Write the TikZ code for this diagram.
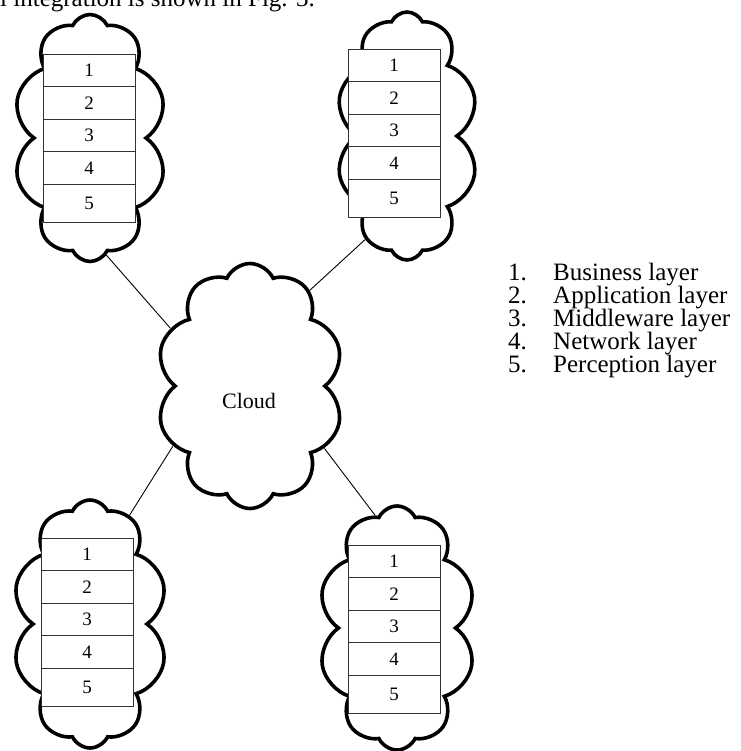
\documentclass[tikz,border=0pt]{standalone}
\usepackage{fontspec}
\setmainfont{Liberation Serif}
\usetikzlibrary{shapes.symbols,positioning}
\tikzset{
cloudy/.style = {draw, cloud, cloud puffs=10, cloud puff arc=130, line width=3.6pt, inner sep=0pt},
stackcloud/.style = {cloudy, minimum width=153pt, minimum height=247pt},
layer/.style = {draw=black!80, fill=white, line width=0.8pt, outer sep=0pt, inner sep=0pt, minimum width=92pt, minimum height=32.5pt, font=\fontsize{19}{19}\selectfont},
lastlayer/.style = {layer, minimum height=38pt},
link/.style = {draw, line width=0.9pt},
legend/.style = {anchor=base west, inner sep=0pt, font=\fontsize{25}{25}\selectfont}
}

\begin{document}
\begin{tikzpicture}[x=1pt, y=-1pt]
  \useasboundingbox (0,0) rectangle (740,751);
  \node [legend]                                                (intro) at (0,7)     {l integration is shown in Fig. 3.};

  \node [stackcloud]                                            (tlc)   at (90,138)  {};
  \node [stackcloud, minimum width=142pt, minimum height=248pt] (trc)   at (407,136) {};
  \node [stackcloud, minimum width=155pt, minimum height=248pt] (blc)   at (90,624)  {};
  \node [stackcloud, minimum width=157pt, minimum height=244pt] (brc)   at (397,628) {};
  \node [cloudy, minimum width=187pt, minimum height=245pt]     (mid)   at (250,386) {};
  \node [font=\fontsize{22}{22}\selectfont]                     (midtxt) at (249,401) {Cloud};

  \draw [link] (tlc.-82) -- (mid.144);
  \draw [link] (trc.248) -- (mid.58);
  \draw [link] (mid.218) -- (blc.70);
  \draw [link] (mid.-40) -- (brc.101);

  \foreach \s/\x/\y in {tl/43/54, tr/348/49, bl/41/538, br/348/545} {
    \node [layer, anchor=north west] (\s1) at (\x,\y) {1};
    \foreach \i [remember=\i as \j (initially 1)] in {2,3,4}
      \node [layer, below=0pt of \s\j] (\s\i) {\i};
    \node [lastlayer, below=0pt of \s4] (\s5) {5};
  }

  \foreach \n/\t in {1/Business layer, 2/Application layer, 3/Middleware layer, 4/Network layer, 5/Perception layer} {
    \node [legend] (num\n)  at (508,257+23*\n) {\n.};
    \node [legend] (item\n) at (553,257+23*\n) {\t};
  }
\end{tikzpicture}
\end{document}
